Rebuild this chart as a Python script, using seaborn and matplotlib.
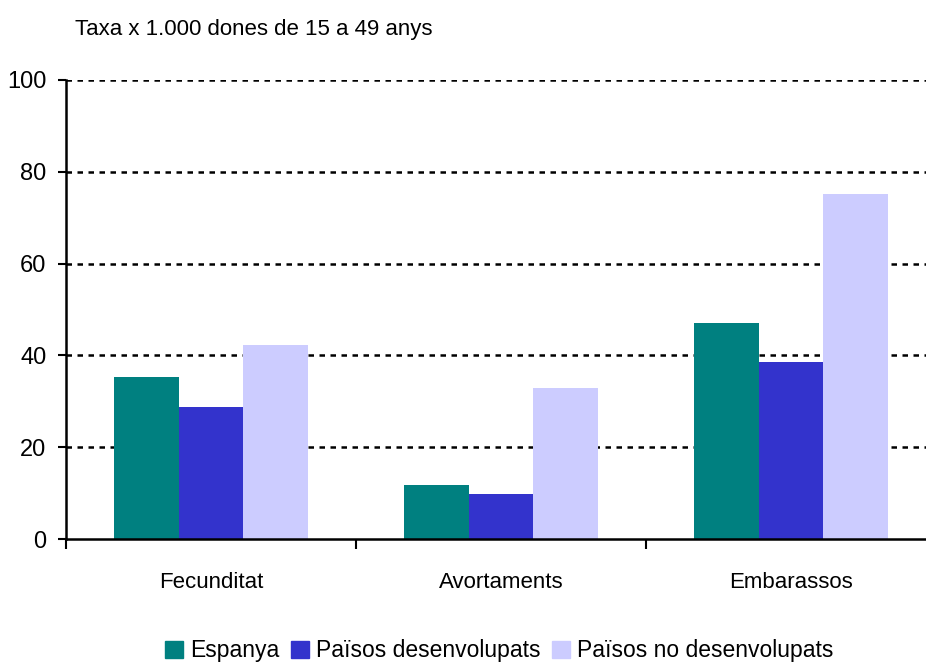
import numpy as np
import matplotlib
matplotlib.use("Agg")
import matplotlib.pyplot as plt
import pandas as pd
import seaborn as sns

categories = ["Fecunditat", "Avortaments", "Embarassos"]
series = ["Espanya", "Països desenvolupats", "Països no desenvolupats"]
espanya = [35.3, 11.8, 47.1]
desenvolupats = [28.8, 9.8, 38.6]
no_desenvolupats = [42.3, 32.9, 75.2]
colors = ["#008080", "#3333CC", "#CCCCFF"]

df = pd.DataFrame({
    "cat": categories * 3,
    "serie": [series[0]] * 3 + [series[1]] * 3 + [series[2]] * 3,
    "val": espanya + desenvolupats + no_desenvolupats,
})

sns.set_style("white")
plt.rcParams["font.family"] = ["Liberation Sans Narrow", "Liberation Sans", "DejaVu Sans"]
plt.rcParams["text.color"] = "black"
plt.rcParams["xtick.color"] = "black"
plt.rcParams["ytick.color"] = "black"

fig = plt.figure(figsize=(9.26, 6.66), dpi=100)
ax = fig.add_axes([66 / 926, 1 - 539 / 666, 1 - 66 / 926, (539 - 80) / 666])

sns.barplot(data=df, x="cat", y="val", hue="serie", palette=colors,
            width=0.67, gap=0, saturation=1, linewidth=0, ax=ax, legend=False)

ax.set_ylim(0, 100)
ax.set_xlim(-0.5, 2.466)
ax.set_yticks(np.arange(0, 101, 20))
for v in range(20, 101, 20):
    ax.axhline(v, color="black", lw=1.8, ls=(0, (2.2, 2.2)), zorder=0)

ax.set_xticks([0, 1, 2])
ax.set_xticklabels(categories, fontsize=16)
ax.set_xticks([-0.5, 0.5, 1.5], minor=True)
ax.tick_params(axis="x", which="major", bottom=False, length=0, pad=24)
ax.tick_params(axis="x", which="minor", bottom=True, length=7, width=1.5, direction="out", color="black")
ax.tick_params(axis="y", left=True, length=6, width=1.5, direction="out", color="black", labelsize=17, pad=8)

for s in ["top", "right"]:
    ax.spines[s].set_visible(False)
for s in ["left", "bottom"]:
    ax.spines[s].set_color("black")
    ax.spines[s].set_linewidth(1.8)

ax.set_xlabel("")
ax.set_ylabel("")

fig.text(75 / 926, 1 - 30 / 666, "Taxa x 1.000 dones de 15 a 49 anys", fontsize=16, va="center", ha="left")

handles = [plt.Rectangle((0, 0), 1, 1, color=c) for c in colors]
fig.legend(handles, series, loc="center", bbox_to_anchor=(499 / 926, 1 - 651 / 666), ncol=3,
           frameon=False, fontsize=16.5, handlelength=0.8, handleheight=0.8,
           handletextpad=0.3, columnspacing=0.5)

fig.savefig("out.png", dpi=100)
